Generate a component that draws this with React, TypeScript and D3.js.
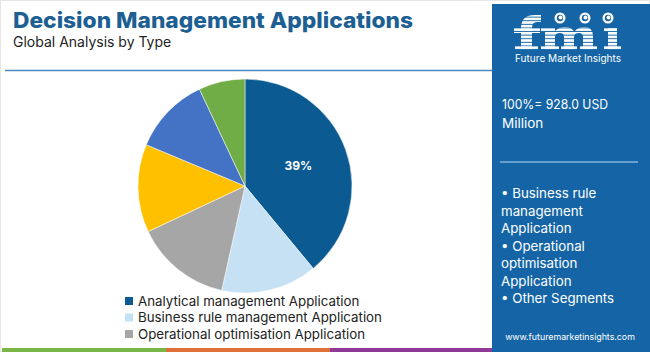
import React from "react";
import * as d3 from "d3";

const categories = [
  "Analytical management Application",
  "Business rule management Application",
  "Operational optimisation Application",
  "Segment 4",
  "Segment 5",
  "Segment 6",
];
const values = [39, 14.5, 14.5, 13.3, 11.7, 7];
const colors = ["#0b5b92", "#c6e1f3", "#a6a6a6", "#ffc000", "#4472c4", "#70ad47"];
const legendItems = categories.slice(0, 3);
const panelBullets = [
  "• Business rule",
  "management",
  "Application",
  "• Operational",
  "optimisation",
  "Application",
  "• Other Segments",
];

const W = 650;
const H = 352;
const FONT = "Inter, 'Open Sans', sans-serif";
const PANEL = "#1565a6";

function Logo() {
  const fill = "url(#fmiStripes)";
  return (
    <g>
      <defs>
        <pattern id="fmiStripes" patternUnits="userSpaceOnUse" x={0} y={14} width={4} height={3.6}>
          <rect x={0} y={0} width={4} height={2.6} fill="#ffffff" />
        </pattern>
      </defs>
      {/* f */}
      <path d="M521,50 L521,28 Q521,15 535,15 L541,15 L541,22 L537,22 Q532,22 532,28 L532,50 Z" fill={fill} />
      <rect x={514} y={28} width={26} height={5} fill={fill} />
      <rect x={515} y={46} width={23} height={4} fill={fill} />
      {/* m */}
      <path
        d="M545,50 L545,32 L541,32 L541,28 L555,28 L555,31 Q559,27 565,27 Q572,27 574,32 Q578,27 584,27 Q593,27 593,36 L593,50 L583,50 L583,37 Q583,33 579,33 Q574,33 574,37 L574,50 L564,50 L564,37 Q564,33 560,33 Q555,33 555,37 L555,50 Z"
        fill={fill}
      />
      <rect x={541} y={46} width={18} height={4} fill={fill} />
      <rect x={561} y={46} width={16} height={4} fill={fill} />
      <rect x={580} y={46} width={17} height={4} fill={fill} />
      {/* i */}
      <rect x={608} y={28} width={9} height={22} fill={fill} />
      <rect x={604} y={28} width={13} height={4} fill={fill} />
      <rect x={604} y={46} width={17} height={4} fill={fill} />
      {/* icons */}
      {[560, 585, 608].map((x) => (
        <g key={x}>
          <circle cx={x} cy={18} r={5.5} fill="#ffffff" />
          <circle cx={x} cy={18} r={3.2} fill={PANEL} />
          <circle cx={x + 0.5} cy={17.5} r={2} fill="#ffffff" />
        </g>
      ))}
    </g>
  );
}

export default function App() {
  const cx = 245;
  const cy = 186;
  const r = 107;
  const pie = d3.pie<number>().sort(null).value((d) => d);
  const arcs = pie(values);
  const arc = d3.arc<d3.PieArcDatum<number>>().innerRadius(0).outerRadius(r);
  const labelArc = d3.arc<d3.PieArcDatum<number>>().innerRadius(r * 0.53).outerRadius(r * 0.53);
  const total = d3.sum(values);

  return (
    <svg
      width={W}
      height={H}
      style={{ position: "absolute", left: 0, top: 0, display: "block" }}
      fontFamily={FONT}
    >
      <rect x={0} y={0} width={W} height={H} fill="#ffffff" />
      <rect x={0.5} y={0.5} width={W - 1} height={H - 1} fill="none" stroke="#e6e6e6" />
      <text x={13} y={28} fontSize={22} fontWeight={800} fill="#1d5f92" textLength={400} lengthAdjust="spacingAndGlyphs">
        Decision Management Applications
      </text>
      <text x={13} y={47} fontSize={14} fill="#222">
        Global Analysis by Type
      </text>
      <line x1={5} x2={492} y1={70.5} y2={70.5} stroke="#4a87bd" strokeWidth={1.5} />

      {arcs.map((a, i) => (
        <path key={i} d={arc(a) || ""} transform={`translate(${cx},${cy})`} fill={colors[i]} stroke="#ffffff" strokeWidth={0.5} />
      ))}
      {arcs.slice(0, 1).map((a, i) => {
        const [lx, ly] = labelArc.centroid(a);
        return (
          <text key={i} x={cx + lx} y={cy + ly} textAnchor="middle" dominantBaseline="middle" fontSize={12} fontWeight={700} fill="#ffffff">
            {Math.round((a.value / total) * 100)}%
          </text>
        );
      })}

      {legendItems.map((c, i) => (
        <g key={c} transform={`translate(125,${305.5 + i * 16.5})`}>
          <rect x={0} y={-8.5} width={8} height={8} fill={colors[i]} />
          <text x={13} y={0} fontSize={13.3} fill="#222">
            {c}
          </text>
        </g>
      ))}

      <rect x={2} y={348} width={164} height={4} fill="#7ab648" />
      <rect x={166} y={348} width={164} height={4} fill="#e0703a" />
      <rect x={330} y={348} width={164} height={4} fill="#8e3a96" />

      <rect x={492} y={4} width={158} height={348} fill={PANEL} />
      <Logo />
      <text x={568} y={62} fontSize={10} fill="#ffffff" textAnchor="middle" textLength={106} lengthAdjust="spacingAndGlyphs">
        Future Market Insights
      </text>
      <text x={502} y={109} fontSize={13.5} fill="#ffffff" textLength={106} lengthAdjust="spacingAndGlyphs">
        100%= 928.0 USD
      </text>
      <text x={502} y={128} fontSize={13.5} fill="#ffffff">
        Million
      </text>
      <line x1={500} x2={638} y1={162} y2={162} stroke="#7fb3dd" strokeWidth={1.5} />
      {panelBullets.map((t, i) => (
        <text key={i} x={501} y={198 + i * 17.5} fontSize={13.3} fill="#ffffff">
          {t}
        </text>
      ))}
      <text x={570} y={340} fontSize={8.8} fill="#ffffff" textAnchor="middle">
        www.futuremarketinsights.com
      </text>
    </svg>
  );
}
